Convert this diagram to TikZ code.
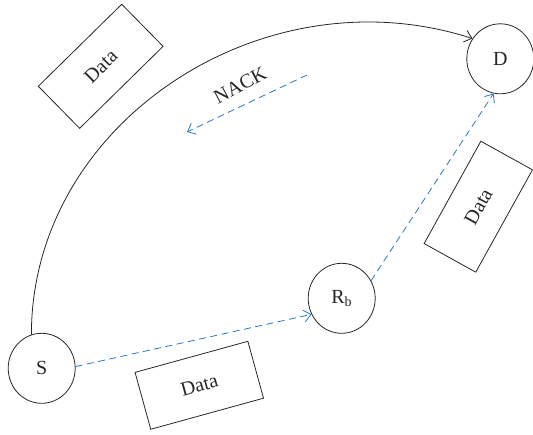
\documentclass[tikz,border=0pt]{standalone}
\usepackage{fontspec}
\setmainfont{Liberation Serif}
\usetikzlibrary{shapes.geometric,arrows.meta}
\definecolor{linkblue}{RGB}{40,120,200}
\begin{document}
\begin{tikzpicture}[x=1pt,y=1pt,
  every node/.style={font=\fontsize{20}{24}\selectfont, text=black!85},
  station/.style={ellipse, draw=black!85, line width=0.8pt, minimum width=67pt, minimum height=70pt, inner sep=0pt},
  packet/.style={rectangle, draw=black!85, line width=0.8pt, minimum width=117pt, minimum height=59pt, inner sep=0pt},
  tip/.style={-{Straight Barb[length=7pt,width=12pt]}},
  bluelink/.style={tip, draw=linkblue, line width=0.8pt, dash pattern=on 7pt off 4.5pt}]
\useasboundingbox (0,0) rectangle (533,434);
\node[station] (S) at (41.7,65.7) {S};
\node[station] (Rb) at (341.7,135.7) {R\textsubscript{b}};
\node[station] (D) at (500.3,375.2) {D};
\node[packet, rotate=44.5] (p1) at (100.7,367.7) {Data};
\node[packet, rotate=61] (p2) at (478.3,227.3) {Data};
\node[packet, rotate=15.4] (p3) at (199.3,48.7) {Data};
\coordinate (n1) at (307,359);
\coordinate (n2) at (187,302);
\node[rotate=28] (nack) at (240,349) {NACK};
\draw[tip, draw=black!85, line width=0.8pt] (S.107) to[out=90, in=162, out distance=212pt, in distance=220pt] (D.144);
\draw[bluelink] (S.3) -- (Rb.208);
\draw[bluelink] (Rb.31) -- (D.259);
\draw[bluelink] (n1) -- (n2);
\end{tikzpicture}
\end{document}
